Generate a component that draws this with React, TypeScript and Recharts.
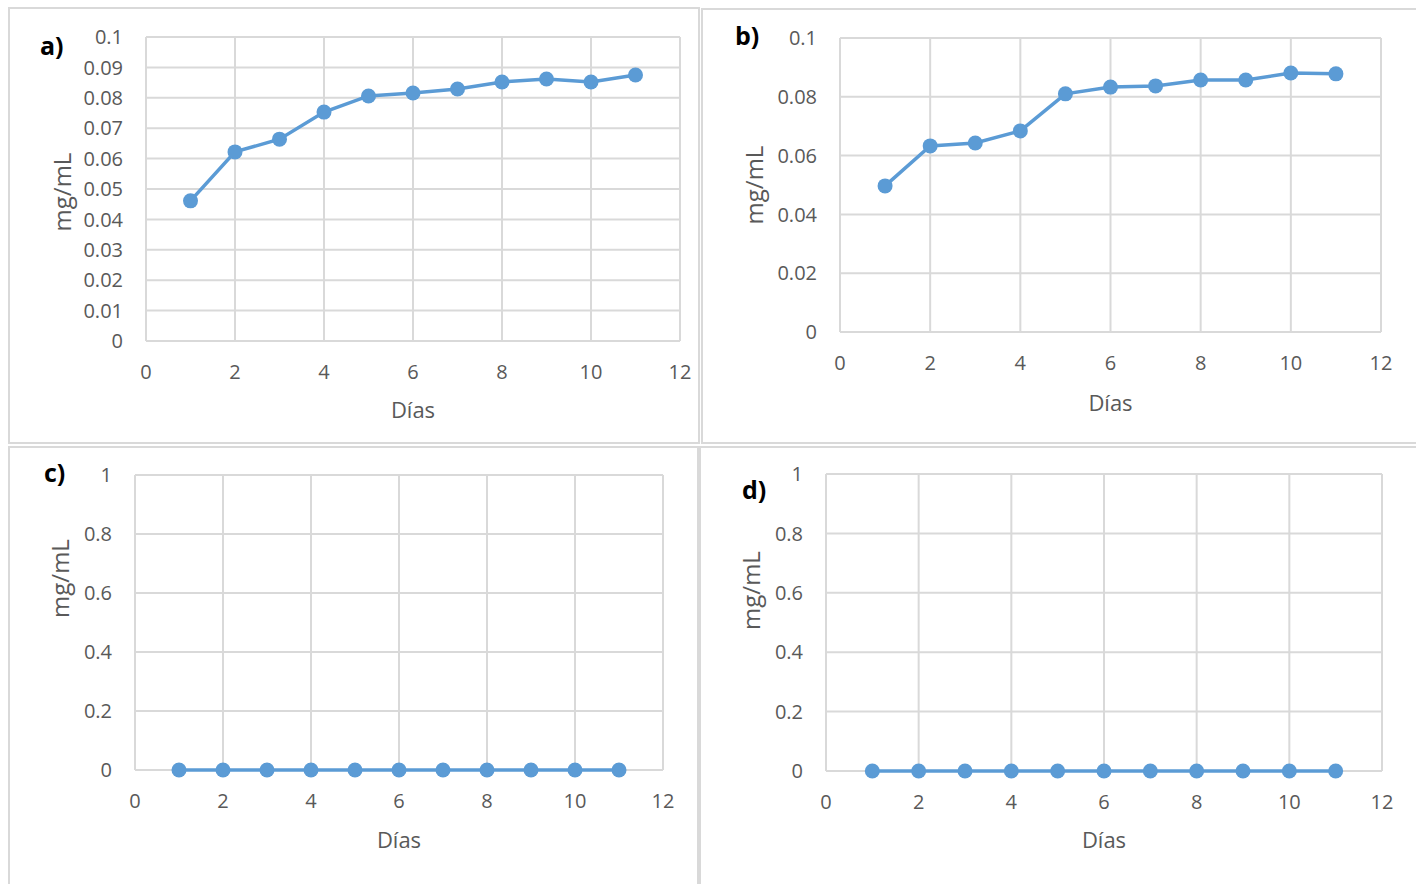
import { LineChart, Line, XAxis, YAxis, CartesianGrid } from "recharts";

const days = [1, 2, 3, 4, 5, 6, 7, 8, 9, 10, 11];
const concA = [0.0461, 0.0622, 0.0664, 0.0753, 0.0806, 0.0816, 0.0829, 0.0852, 0.0862, 0.0852, 0.0875];
const concB = [0.0497, 0.0633, 0.0643, 0.0684, 0.081, 0.0833, 0.0837, 0.0857, 0.0857, 0.0881, 0.0878];
const concC = [0, 0, 0, 0, 0, 0, 0, 0, 0, 0, 0];
const concD = [0, 0, 0, 0, 0, 0, 0, 0, 0, 0, 0];

const xTicks = [0, 2, 4, 6, 8, 10, 12];
const yTicksA = [0, 0.01, 0.02, 0.03, 0.04, 0.05, 0.06, 0.07, 0.08, 0.09, 0.1];
const yTicksB = [0, 0.02, 0.04, 0.06, 0.08, 0.1];
const yTicksCD = [0, 0.2, 0.4, 0.6, 0.8, 1];

const BLUE = "#5b9bd5";
const GRID = "#d9d9d9";
const TEXT = "#595959";
const FONT = "'Open Sans', sans-serif";

type PanelProps = {
  tag: string;
  values: number[];
  yTicks: number[];
  yMax: number;
  box: { left: number; top: number; width: number; height: number };
  margin: { top: number; right: number };
  yWidth: number;
  xHeight: number;
  tagPos: { left: number; top: number };
  yLabelShift: [number, number];
  xLabelShift: number;
};

function Panel(p: PanelProps) {
  const data = days.map((d, i) => ({ day: d, value: p.values[i] }));
  return (
    <>
      <div
        style={{
          position: "absolute",
          left: p.box.left,
          top: p.box.top,
          width: p.box.width,
          height: p.box.height,
          border: `2px solid ${GRID}`,
          boxSizing: "border-box",
        }}
      />
      <div style={{ position: "absolute", left: p.box.left, top: p.box.top }}>
        <LineChart
          width={p.box.width}
          height={p.box.height}
          data={data}
          margin={{ top: p.margin.top, right: p.margin.right, left: 0, bottom: 0 }}
          style={{ fontFamily: FONT }}
        >
          <CartesianGrid stroke={GRID} strokeWidth={2} />
          <XAxis
            type="number"
            dataKey="day"
            domain={[0, 12]}
            ticks={xTicks}
            interval={0}
            axisLine={false}
            tickLine={false}
            tickSize={0}
            tickMargin={24}
            height={p.xHeight}
            tick={{ fill: TEXT, fontSize: 20 }}
            label={{ value: "Días", position: "center", dy: p.xLabelShift, fill: TEXT, fontSize: 22 }}
          />
          <YAxis
            type="number"
            domain={[0, p.yMax]}
            ticks={p.yTicks}
            interval={0}
            axisLine={false}
            tickLine={false}
            tickSize={0}
            tickMargin={23}
            width={p.yWidth}
            tick={{ fill: TEXT, fontSize: 20 }}
            label={{
              value: "mg/mL",
              angle: -90,
              position: "center",
              dx: p.yLabelShift[0],
              dy: p.yLabelShift[1],
              fill: TEXT,
              fontSize: 24,
            }}
          />
          <Line
            type="linear"
            dataKey="value"
            stroke={BLUE}
            strokeWidth={3.5}
            dot={{ r: 7.5, fill: BLUE, stroke: BLUE, strokeWidth: 0 }}
            activeDot={false}
            isAnimationActive={false}
          />
        </LineChart>
      </div>
      <div
        style={{
          position: "absolute",
          left: p.tagPos.left,
          top: p.tagPos.top,
          fontFamily: FONT,
          fontWeight: 700,
          fontSize: 25,
          lineHeight: 1,
          color: "#000",
        }}
      >
        {p.tag}
      </div>
    </>
  );
}

export default function App() {
  return (
    <div style={{ position: "absolute", left: 0, top: 0, width: 1416, height: 884, background: "#fff", overflow: "hidden" }}>
      <Panel
        tag="a)"
        values={concA}
        yTicks={yTicksA}
        yMax={0.1}
        box={{ left: 8, top: 7, width: 692, height: 437 }}
        margin={{ top: 30, right: 20 }}
        yWidth={138}
        xHeight={103}
        tagPos={{ left: 40, top: 33 }}
        yLabelShift={[-15, 3]}
        xLabelShift={18}
      />
      <Panel
        tag="b)"
        values={concB}
        yTicks={yTicksB}
        yMax={0.1}
        box={{ left: 701, top: 8, width: 717, height: 436 }}
        margin={{ top: 30, right: 37 }}
        yWidth={139}
        xHeight={112}
        tagPos={{ left: 735, top: 23 }}
        yLabelShift={[-16.5, 0]}
        xLabelShift={15}
      />
      <Panel
        tag="c)"
        values={concC}
        yTicks={yTicksCD}
        yMax={1}
        box={{ left: 8, top: 446, width: 691, height: 440 }}
        margin={{ top: 29, right: 36 }}
        yWidth={127}
        xHeight={116}
        tagPos={{ left: 44, top: 460 }}
        yLabelShift={[-11.5, -44]}
        xLabelShift={12}
      />
      <Panel
        tag="d)"
        values={concD}
        yTicks={yTicksCD}
        yMax={1}
        box={{ left: 699, top: 446, width: 719, height: 440 }}
        margin={{ top: 28, right: 36 }}
        yWidth={127}
        xHeight={115}
        tagPos={{ left: 742, top: 477 }}
        yLabelShift={[-11.5, -32]}
        xLabelShift={12}
      />
    </div>
  );
}
